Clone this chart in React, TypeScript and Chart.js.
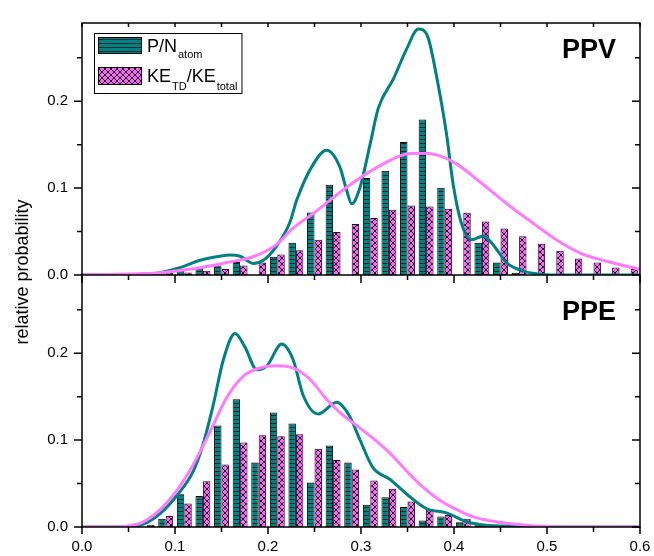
import React, { useEffect, useRef } from 'react';
import { Chart, registerables } from 'chart.js';
Chart.register(...registerables);

// ---------- data ----------
const binCenters = [0.07, 0.09, 0.11, 0.13, 0.15, 0.17, 0.19, 0.21, 0.23, 0.25, 0.27, 0.29, 0.31, 0.33, 0.35, 0.37, 0.39, 0.41, 0.43, 0.45, 0.47, 0.49, 0.51, 0.53, 0.55, 0.57, 0.59];

// PPV panel
const ppvPBars = [0, 0.001, 0.0047, 0.008, 0.011, 0.015, 0, 0.021, 0.037, 0.072, 0.104, 0, 0.1115, 0.12, 0.153, 0.179, 0.1005, 0, 0.037, 0.0143, 0.0025, 0, 0, 0, 0, 0, 0];
const ppvKEBars = [0, 0.003, 0.003, 0.005, 0.007, 0.011, 0.0145, 0.0235, 0.0285, 0.0405, 0.0495, 0.0587, 0.0657, 0.075, 0.08, 0.0787, 0.0762, 0.0715, 0.0617, 0.0535, 0.0445, 0.036, 0.0278, 0.019, 0.0143, 0.0087, 0.007];

const ppvPCurveX = [0, 0.06, 0.084, 0.105, 0.127, 0.148, 0.159, 0.17, 0.184, 0.195, 0.209, 0.2237, 0.2308, 0.2487, 0.263, 0.2774, 0.2846, 0.29, 0.299, 0.3097, 0.3186, 0.335, 0.349, 0.3617, 0.372, 0.381, 0.392, 0.399, 0.408, 0.419, 0.4315, 0.442, 0.4567, 0.4746, 0.4925, 0.52, 0.6];
const ppvPCurveY = [0, 0, 0.0027, 0.0083, 0.017, 0.0216, 0.023, 0.0216, 0.0133, 0.017, 0.033, 0.061, 0.086, 0.1276, 0.1435, 0.1239, 0.0974, 0.082, 0.101, 0.15, 0.192, 0.226, 0.26, 0.283, 0.2735, 0.23, 0.162, 0.105, 0.0594, 0.0405, 0.045, 0.0349, 0.014, 0.0045, 0.001, 0, 0];

const ppvKECurveX = [0, 0.03, 0.06, 0.084, 0.127, 0.1556, 0.184, 0.209, 0.227, 0.2487, 0.2846, 0.3204, 0.3527, 0.37, 0.385, 0.403, 0.428, 0.4567, 0.4853, 0.51, 0.5355, 0.564, 0.6];
const ppvKECurveY = [0, 0.0005, 0.0015, 0.0027, 0.0083, 0.0143, 0.021, 0.035, 0.054, 0.0708, 0.101, 0.1258, 0.1398, 0.14, 0.137, 0.1276, 0.107, 0.082, 0.0594, 0.0405, 0.0253, 0.0159, 0.0065];

// PPE panel
const ppePBars = [0, 0.0094, 0.0376, 0.0358, 0.1168, 0.1469, 0.0742, 0.1318, 0.119, 0.0512, 0.0938, 0.0742, 0.0256, 0.0343, 0.023, 0.0076, 0.012, 0.0056, 0.002, 0.001, 0, 0, 0, 0, 0, 0, 0];
const ppeKEBars = [0.0026, 0.0128, 0.027, 0.0527, 0.072, 0.0972, 0.1055, 0.1043, 0.1066, 0.09, 0.0772, 0.0663, 0.0535, 0.0441, 0.0294, 0.0211, 0.0139, 0.0094, 0.002, 0.003, 0, 0, 0, 0, 0, 0, 0];

const ppePCurveX = [0, 0.048, 0.066, 0.084, 0.1018, 0.1197, 0.13, 0.141, 0.152, 0.1645, 0.175, 0.188, 0.1986, 0.2147, 0.227, 0.238, 0.254, 0.274, 0.2774, 0.288, 0.299, 0.313, 0.331, 0.349, 0.3706, 0.392, 0.4136, 0.4315, 0.4567, 0.48, 0.6];
const ppePCurveY = [0, 0, 0.0034, 0.0155, 0.036, 0.0644, 0.0946, 0.14, 0.1925, 0.2226, 0.2076, 0.181, 0.185, 0.2105, 0.1925, 0.151, 0.13, 0.1435, 0.142, 0.127, 0.1, 0.068, 0.055, 0.038, 0.021, 0.0162, 0.006, 0.0023, 0.001, 0, 0];

const ppeKECurveX = [0, 0.03, 0.048, 0.066, 0.084, 0.1018, 0.1197, 0.1376, 0.1556, 0.1735, 0.191, 0.209, 0.227, 0.245, 0.263, 0.277, 0.295, 0.313, 0.331, 0.349, 0.367, 0.385, 0.403, 0.4208, 0.4387, 0.4567, 0.4745, 0.4925, 0.52, 0.6];
const ppeKECurveY = [0, 0, 0.001, 0.006, 0.02, 0.0418, 0.072, 0.1096, 0.149, 0.1737, 0.183, 0.1857, 0.183, 0.17, 0.147, 0.132, 0.117, 0.102, 0.085, 0.0644, 0.0455, 0.0305, 0.02, 0.0116, 0.0071, 0.0042, 0.0023, 0.001, 0, 0];

const xTickLabels = ['0.0', '0.1', '0.2', '0.3', '0.4', '0.5', '0.6'];
const panelLabels = ['PPV', 'PPE'];
const yTitle = 'relative probability';

// ---------- styles ----------
const FONT = '"Liberation Sans", Arial, Helvetica, sans-serif';
const TEAL = '#008080';
const PINK_FILL = '#F866F8';
const PINK_LINE = '#FF7CFF';

function makeStripe() {
  const c = document.createElement('canvas');
  c.width = 8; c.height = 4;
  const g = c.getContext('2d')!;
  g.fillStyle = TEAL; g.fillRect(0, 0, 8, 4);
  g.fillStyle = '#0b2d2d'; g.fillRect(0, 3, 8, 1);
  return g.createPattern(c, 'repeat')!;
}
function makeHatch() {
  const c = document.createElement('canvas');
  c.width = 6; c.height = 6;
  const g = c.getContext('2d')!;
  g.fillStyle = PINK_FILL; g.fillRect(0, 0, 6, 6);
  g.strokeStyle = '#1a001a'; g.lineWidth = 1;
  g.beginPath();
  g.moveTo(-1, -1); g.lineTo(7, 7);
  g.moveTo(7, -1); g.lineTo(-1, 7);
  g.stroke();
  return g.createPattern(c, 'repeat')!;
}

const pts = (xs: number[], ys: number[]) => xs.map((x, i) => ({ x, y: ys[i] }));
const bars = (vals: number[]) => binCenters.map((x, i) => ({ x, y: vals[i] }));

export default function App() {
  const ref = useRef<HTMLCanvasElement | null>(null);
  useEffect(() => {
    document.body.style.margin = '0';
    const canvas = ref.current;
    if (!canvas) return;
    const stripe = makeStripe();
    const hatch = makeHatch();

    const framePlugin = {
      id: 'frame',
      afterDraw(chart: any) {
        const { ctx, chartArea } = chart;
        const { left, right, top, bottom } = chartArea;
        const xs = chart.scales.x;
        const yT = chart.scales.yTop;
        const yB = chart.scales.yBot;
        const sep = (yT.bottom + yB.top) / 2;
        ctx.save();
        ctx.strokeStyle = '#000';
        ctx.lineWidth = 1.5;
        ctx.strokeRect(left, top, right - left, bottom - top);
        ctx.beginPath();
        ctx.moveTo(left, sep); ctx.lineTo(right, sep);
        ctx.stroke();

        ctx.beginPath();
        for (let k = 0; k <= 12; k++) {
          const v = k * 0.05;
          const major = k % 2 === 0;
          const px = xs.getPixelForValue(v);
          ctx.moveTo(px, bottom); ctx.lineTo(px, bottom + (major ? 7 : 5));
          ctx.moveTo(px, sep); ctx.lineTo(px, sep + (major ? 8 : 5));
          ctx.moveTo(px, top); ctx.lineTo(px, top + 4);
        }
        for (const s of [yT, yB]) {
          for (let k = 0; k <= 5; k++) {
            const v = k * 0.05;
            const major = k % 2 === 0;
            const py = s.getPixelForValue(v);
            ctx.moveTo(left - (major ? 8 : 5), py); ctx.lineTo(left, py);
            ctx.moveTo(right - (major ? 8 : 5), py); ctx.lineTo(right, py);
          }
        }
        ctx.stroke();

        // panel labels
        ctx.fillStyle = '#000';
        ctx.font = `bold 27px ${FONT}`;
        ctx.textAlign = 'right';
        ctx.textBaseline = 'alphabetic';
        ctx.fillText(panelLabels[0], right - 24, yT.top + 35);
        ctx.fillText(panelLabels[1], right - 24, yB.top + 45);

        // y title
        ctx.save();
        ctx.font = `18px ${FONT}`;
        ctx.textAlign = 'center';
        ctx.translate(28, (top + bottom) / 2 - 3);
        ctx.rotate(-Math.PI / 2);
        ctx.fillText(yTitle, 0, 0);
        ctx.restore();

        // legend
        const lx = left + 12, ly = top + 10;
        const big = `18px ${FONT}`, small = `11px ${FONT}`;
        const tx = lx + 53;
        ctx.textAlign = 'left';
        const row2Parts: [string, boolean][] = [['KE', false], ['TD', true], ['/KE', false], ['total', true]];
        let w2 = 0;
        for (const [t, sub] of row2Parts) { ctx.font = sub ? small : big; w2 += ctx.measureText(t).width + (sub ? 1 : 0); }
        const boxW = tx + w2 + 4 - lx;
        ctx.fillStyle = '#fff';
        ctx.fillRect(lx, ly, boxW, 60);
        ctx.lineWidth = 1;
        ctx.strokeStyle = '#000';
        ctx.strokeRect(lx + 0.5, ly + 0.5, boxW, 60);
        // swatches
        ctx.fillStyle = stripe;
        ctx.fillRect(lx + 4, ly + 4, 43, 16);
        ctx.strokeRect(lx + 4.5, ly + 4.5, 43, 16);
        ctx.fillStyle = hatch;
        ctx.fillRect(lx + 4, ly + 34, 43, 17);
        ctx.strokeRect(lx + 4.5, ly + 34.5, 43, 17);
        // texts
        ctx.fillStyle = '#000';
        let cx = tx;
        ctx.font = big; ctx.fillText('P/N', cx, ly + 19); cx += ctx.measureText('P/N').width + 1;
        ctx.font = small; ctx.fillText('atom', cx, ly + 25);
        cx = tx;
        for (const [t, sub] of row2Parts) {
          ctx.font = sub ? small : big;
          ctx.fillText(t, sub ? cx + 1 : cx, sub ? ly + 57 : ly + 49);
          cx += ctx.measureText(t).width + (sub ? 1 : 0);
        }
        ctx.restore();
      },
    };

    const yAxis = () => ({
      type: 'linear' as const,
      position: 'left' as const,
      stack: 'panels',
      stackWeight: 1,
      stacked: false,
      min: 0,
      max: 0.29,
      grid: { display: false, drawTicks: false },
      border: { display: false },
      afterFit: (s: any) => { s.width = 74; },
      ticks: {
        stepSize: 0.1,
        includeBounds: false,
        padding: 14,
        color: '#000',
        font: { size: 15, family: FONT },
        callback: (v: any) => Number(v).toFixed(1),
      },
    });

    const lineDs = (label: string, xs: number[], ys: number[], axis: string, color: string, order: number) => ({
      type: 'line' as const,
      label,
      data: pts(xs, ys),
      yAxisID: axis,
      borderColor: color,
      borderWidth: 3,
      pointRadius: 0,
      fill: false,
      cubicInterpolationMode: 'monotone' as const,
      order,
    });
    const barDs = (label: string, vals: number[], axis: string, stack: string, bg: any, border: string) => ({
      type: 'bar' as const,
      label,
      data: bars(vals),
      yAxisID: axis,
      stack,
      backgroundColor: bg,
      borderColor: border,
      borderWidth: 1,
      borderSkipped: false,
      categoryPercentage: 0.8,
      barPercentage: 1,
      order: 3,
    });

    const chart = new Chart(canvas, {
      type: 'bar',
      data: {
        datasets: [
          lineDs('PPV KE curve', ppvKECurveX, ppvKECurveY, 'yTop', PINK_LINE, 0),
          lineDs('PPV P curve', ppvPCurveX, ppvPCurveY, 'yTop', TEAL, 1),
          lineDs('PPE KE curve', ppeKECurveX, ppeKECurveY, 'yBot', PINK_LINE, 0),
          lineDs('PPE P curve', ppePCurveX, ppePCurveY, 'yBot', TEAL, 1),
          barDs('PPV P/N', ppvPBars, 'yTop', 'P', stripe, '#000'),
          barDs('PPV KE', ppvKEBars, 'yTop', 'KE', hatch, '#2a002a'),
          barDs('PPE P/N', ppePBars, 'yBot', 'P', stripe, '#000'),
          barDs('PPE KE', ppeKEBars, 'yBot', 'KE', hatch, '#2a002a'),
        ] as any,
      },
      options: {
        responsive: false,
        animation: false,
        events: [],
        layout: { padding: { left: 8, right: 14, top: 13, bottom: 0 } },
        plugins: { legend: { display: false }, tooltip: { enabled: false } },
        scales: {
          x: {
            type: 'linear',
            position: 'bottom',
            min: 0,
            max: 0.6,
            offset: false,
            grid: { display: false, drawTicks: false },
            border: { display: false },
            afterFit: (s: any) => { s.height = 29; s.paddingLeft = 0; s.paddingRight = 0; },
            ticks: {
              stepSize: 0.1,
              padding: 11,
              maxRotation: 0,
              autoSkip: false,
              color: '#000',
              font: { size: 15, family: FONT },
              callback: (v: any) => xTickLabels[Math.round(Number(v) * 10)] ?? '',
            },
          },
          // stacked left axes are laid out in reverse order: the last listed is placed on top
          yBot: yAxis(),
          yTop: yAxis(),
        } as any,
      },
      plugins: [framePlugin],
    });
    return () => chart.destroy();
  }, []);

  return (
    <div style={{ width: 654, height: 556 }}>
      <canvas ref={ref} width={654} height={556} style={{ display: 'block' }} />
    </div>
  );
}
